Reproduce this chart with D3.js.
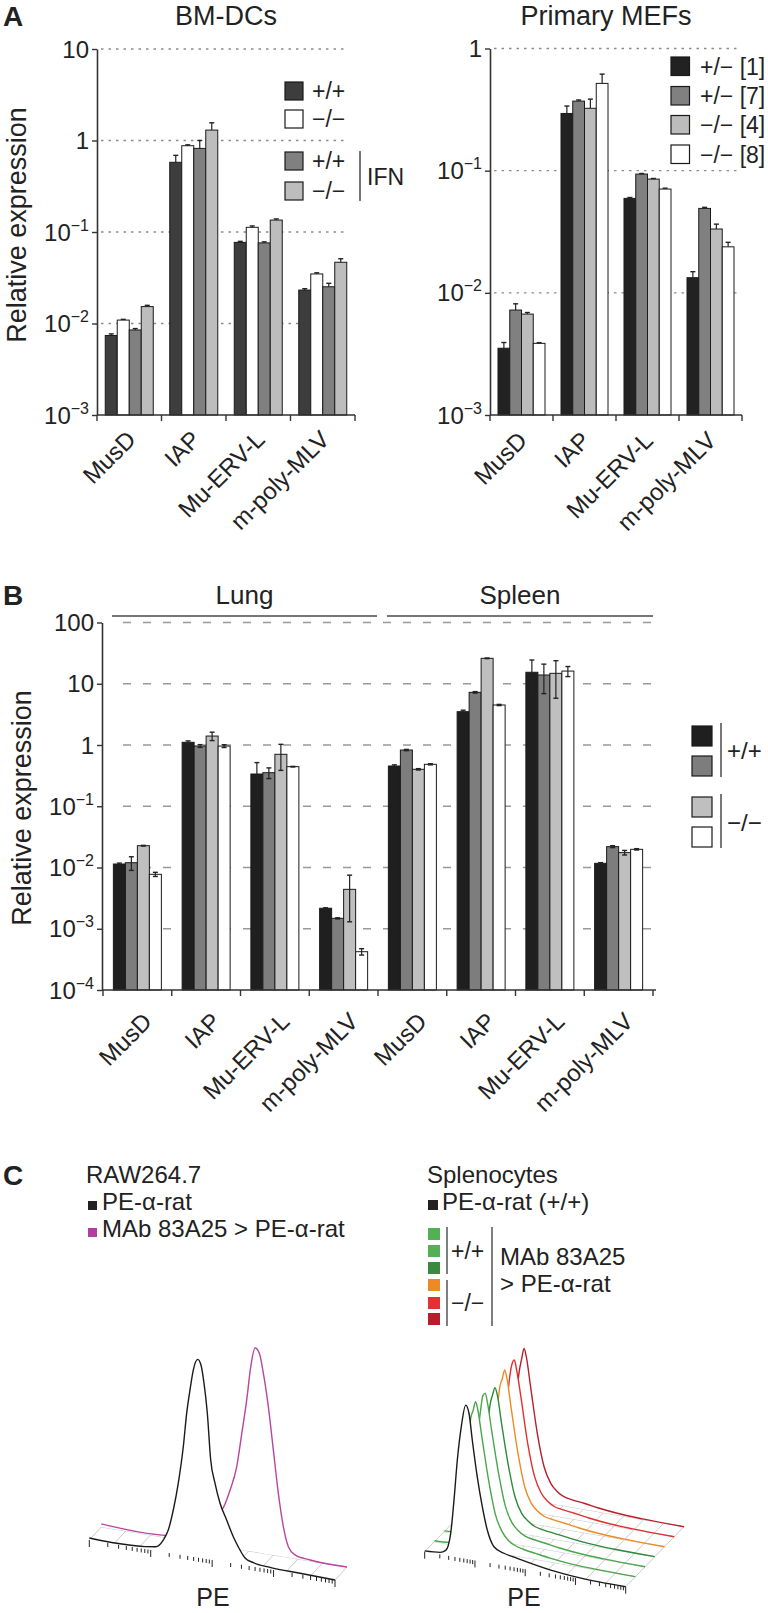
<!DOCTYPE html>
<html><head><meta charset="utf-8">
<script src="https://cdn.jsdelivr.net/npm/d3@7"></script>
<style>
body{margin:0;background:#fff}
svg{display:block}
text{font-family:"Liberation Sans",Arial,Helvetica,sans-serif;fill:#222}
</style>
</head><body>
<svg id="fig" width="768" height="1613"></svg>
<script>
// ---------------- DATA ----------------
const genes = ["MusD", "IAP", "Mu-ERV-L", "m-poly-MLV"];
const tissueGenes = ["MusD", "IAP", "Mu-ERV-L", "m-poly-MLV", "MusD", "IAP", "Mu-ERV-L", "m-poly-MLV"];

// Panel A, BM-DCs
const bmdcWT      = [0.0074, 0.578, 0.077, 0.0232];
const bmdcKO      = [0.0109, 0.877, 0.1125, 0.0348];
const bmdcWTifn   = [0.0085, 0.82, 0.076, 0.0252];
const bmdcKOifn   = [0.0153, 1.30, 0.135, 0.0467];
const bmdcWTerr    = [0.0003, 0.11, 0.002, 0.0008];
const bmdcKOerr    = [0.0002, 0.02, 0.004, 0.001];
const bmdcWTifnErr = [0.0003, 0.18, 0.002, 0.0023];
const bmdcKOifnErr = [0.0005, 0.26, 0.004, 0.0043];
const bmdcLegend = ["+/+", "\u2212/\u2212", "+/+", "\u2212/\u2212"];

// Panel A, primary MEFs
const mefHet1 = [0.00352, 0.294, 0.0593, 0.0133];
const mefHet7 = [0.00723, 0.371, 0.0938, 0.0491];
const mefKO4  = [0.0067, 0.324, 0.0853, 0.0333];
const mefKO8  = [0.00386, 0.518, 0.0707, 0.0238];
const mefHet1Err = [0.0004, 0.044, 0.001, 0.0016];
const mefHet7Err = [0.0009, 0.008, 0.001, 0.001];
const mefKO4Err  = [0.0002, 0.061, 0.001, 0.0032];
const mefKO8Err  = [0.00005, 0.099, 0.0012, 0.0021];
const mefLegend = ["+/\u2212 [1]", "+/\u2212 [7]", "\u2212/\u2212 [4]", "\u2212/\u2212 [8]"];

// Panel B, lung (first 4) and spleen (last 4)
const tisWT1 = [0.0114, 1.107, 0.336, 0.00216, 0.454, 3.50, 15.4, 0.0117];
const tisWT2 = [0.01197, 0.964, 0.353, 0.00148, 0.828, 7.24, 13.9, 0.0219];
const tisKO1 = [0.0227, 1.40, 0.705, 0.0044, 0.401, 26.0, 14.8, 0.0175];
const tisKO2 = [0.00774, 0.96, 0.443, 0.000422, 0.484, 4.50, 16.1, 0.0198];
const tisWT1Err = [0.0004, 0.06, 0.18, 0.00004, 0.02, 0.2, 9, 0.0003];
const tisWT2Err = [0.003, 0.05, 0.07, 0.00003, 0.02, 0.2, 7, 0.0008];
const tisKO1Err = [0.0003, 0.22, 0.32, 0.0031, 0.01, 0.3, 9, 0.0015];
const tisKO2Err = [0.0006, 0.05, 0.005, 0.00005, 0.01, 0.1, 3, 0.0005];
const tissues = ["Lung", "Spleen"];
const tissueLegend = ["+/+", "\u2212/\u2212"];

// tick labels
const bmdcTicks = [10, 1, 0.1, 0.01, 0.001];
const bmdcTickLabels = [["10", ""], ["1", ""], ["10", "\u22121"], ["10", "\u22122"], ["10", "\u22123"]];
const mefTicks = [1, 0.1, 0.01, 0.001];
const mefTickLabels = [["1", ""], ["10", "\u22121"], ["10", "\u22122"], ["10", "\u22123"]];
const tisTicks = [100, 10, 1, 0.1, 0.01, 0.001, 0.0001];
const tisTickLabels = [["100", ""], ["10", ""], ["1", ""], ["10", "\u22121"], ["10", "\u22122"], ["10", "\u22123"], ["10", "\u22124"]];

// Panel C, flow histograms (PE fluorescence, % of max count)
const rawBlackPE  = [1, 3, 8, 12, 16, 19.3, 23.3, 28.1, 33.9, 38.5, 43.6, 49.3, 58.2, 65.8, 73.6, 83.4, 94.7, 111, 134, 172, 221, 266, 343, 468, 875, 2692, 10000];
const rawBlackCnt = [1, 0.6, 1.2, 2, 5.9, 11.2, 21.4, 35, 53.2, 70, 81.6, 91.6, 97.2, 94.7, 86.1, 71.7, 48.9, 38, 28.6, 20.8, 13.1, 8.6, 3.6, 2, 1, 0.5, 0];
const rawMabPE  = [1, 10.9, 19, 33.6, 59, 91.4, 125, 160, 194, 233, 271, 319, 374, 435, 524, 632, 763, 920, 1110, 1427, 2505, 10000];
const rawMabCnt = [1.5, 1, 2, 6, 14, 17.9, 28.4, 40.3, 57.2, 73.9, 90.5, 100, 97.8, 88.2, 72.3, 51.5, 30.6, 14.7, 5.3, 1.8, 0.5, 0];

const splBlackPE  = [1, 2.02, 2.62, 3.29, 3.83, 4.46, 5.35, 6.55, 7.61, 8.85, 11.1, 14.0, 17.6, 23.9, 37.8, 69.6, 322, 1232, 10000];
const splBlackCnt = [0.5, 1.3, 3.2, 14.8, 36.6, 62.8, 84.8, 99.2, 94.3, 77.4, 54.3, 35.5, 21, 11, 7.9, 6.1, 2.3, 0.6, 0];
const splMabPE = [1, 2, 2.6, 3.3, 3.8, 4.5, 5.3, 5.9, 6.6, 7.3, 8.9, 12.1, 16.5, 22.4, 30, 41, 60, 103, 200, 472, 1500, 10000];
const splGreen1  = [0.6, 1.2, 3, 15, 36, 62, 84, 89, 95, 90, 72, 45, 24, 14, 9, 6.5, 5, 3.8, 2.4, 1.1, 0.4, 0];
const splGreen2  = [0.5, 1.4, 3.5, 16, 37, 61, 82, 92, 94, 88, 70, 44, 23.5, 13.5, 9, 6.2, 5, 3.9, 2.5, 1.2, 0.4, 0];
const splGreen3  = [0.6, 1.3, 3.2, 14, 34, 58, 80, 86, 91, 87, 69, 43, 23, 13, 8.8, 6, 4.8, 3.7, 2.4, 1.1, 0.3, 0];
const splOrange  = [0.5, 1.1, 3, 15, 36, 63, 85, 90, 96, 91, 72, 44, 23, 13, 8.6, 6, 4.9, 3.9, 2.5, 1.2, 0.4, 0];
const splRed     = [0.6, 1.2, 3.1, 14, 35, 61, 84, 93, 96, 90, 73, 44, 23.5, 13.4, 8.8, 6, 4.9, 3.9, 2.5, 1.2, 0.4, 0];
const splDarkRed = [0.5, 1.5, 3, 14, 35, 60, 82, 90, 97, 92, 73, 43.8, 23, 13, 8.5, 5.9, 4.8, 3.9, 2.5, 1.2, 0.4, 0];
const floorGridPE = [1, 2.5, 6.3, 15.8, 39.8, 100, 251, 631, 1585, 3981, 10000];

// ---------------- DRAWING ----------------
const svg = d3.select("#fig");
const ink = "#222";

function txt(g, x, y, s, size, anchor, weight) {
  return g.append("text").attr("x", x).attr("y", y).attr("text-anchor", anchor || "start")
    .style("font-size", size + "px").style("font-weight", weight || "normal").text(s);
}

function drawBars(p) {
  const g = svg.append("g");
  const y = d3.scaleLog().domain(p.domain).range([p.yBot, p.yTop]);
  const x = d3.scaleBand().domain(d3.range(p.cats.length)).range([p.x0, p.x1]);
  const inner = d3.scaleBand().domain(d3.range(p.series.length)).range([0, p.groupW]);
  const off = (x.bandwidth() - p.groupW) / 2;

  g.selectAll(".grid").data(p.grid).join("line")
    .attr("x1", p.gridX0).attr("x2", p.gridX1)
    .attr("y1", d => y(d)).attr("y2", d => y(d))
    .attr("stroke", p.gridColor).attr("stroke-width", p.gridW)
    .attr("stroke-dasharray", p.gridDash);

  p.series.forEach((vals, si) => {
    g.selectAll(null).data(vals).join("rect")
      .attr("x", (d, i) => x(i) + off + inner(si))
      .attr("width", inner.bandwidth())
      .attr("y", d => y(d)).attr("height", d => p.yBot - y(d))
      .attr("fill", p.colors[si]).attr("stroke", "#1a1a1a").attr("stroke-width", 1);
  });

  p.series.forEach((vals, si) => {
    vals.forEach((v, i) => {
      const e = p.errs[si][i];
      const cx = x(i) + off + inner(si) + inner.bandwidth() / 2;
      const yTopE = y(v + e);
      const yLowE = p.both ? y(Math.max(v - e, p.domain[0])) : y(v);
      g.append("line").attr("x1", cx).attr("x2", cx).attr("y1", yTopE).attr("y2", yLowE)
        .attr("stroke", ink).attr("stroke-width", 1.2);
      g.append("line").attr("x1", cx - 2.5).attr("x2", cx + 2.5).attr("y1", yTopE).attr("y2", yTopE)
        .attr("stroke", ink).attr("stroke-width", 1.4);
      if (p.both && v - e > p.domain[0]) {
        g.append("line").attr("x1", cx - 2.5).attr("x2", cx + 2.5).attr("y1", yLowE).attr("y2", yLowE)
          .attr("stroke", ink).attr("stroke-width", 1.4);
      }
    });
  });

  // y axis
  const ya = g.append("g").attr("transform", `translate(${p.axisX},0)`)
    .call(d3.axisLeft(y).tickValues(p.ticks).tickSize(5).tickSizeOuter(0).tickFormat(() => ""));
  ya.select(".domain").attr("stroke", "#333").attr("stroke-width", 1.6);
  ya.selectAll(".tick line").attr("stroke", "#333").attr("stroke-width", 1.4);
  p.ticks.forEach((t, i) => {
    const lab = p.tickLabels[i];
    const tt = g.append("text").attr("x", p.axisX - 8).attr("y", y(t) + 8.5)
      .attr("text-anchor", "end").style("font-size", "24px");
    tt.append("tspan").text(lab[0]);
    if (lab[1]) tt.append("tspan").attr("dy", -10).style("font-size", "16px").text(lab[1]);
  });

  // x axis
  g.append("line").attr("x1", p.axisX).attr("x2", p.xAxisEnd).attr("y1", p.yBot).attr("y2", p.yBot)
    .attr("stroke", "#333").attr("stroke-width", 1.6);
  const bounds = d3.range(p.cats.length).map(i => x(i)).concat([p.x1]);
  g.selectAll(".xt").data(bounds).join("line")
    .attr("x1", d => d).attr("x2", d => d).attr("y1", p.yBot).attr("y2", p.yBot + 6)
    .attr("stroke", "#333").attr("stroke-width", 1.4);
  p.cats.forEach((c, i) => {
    const ax = x(i) + x.bandwidth() / 2 + p.labDx, ay = p.yBot + p.labDy;
    g.append("text").attr("transform", `translate(${ax},${ay}) rotate(-45)`)
      .attr("text-anchor", "end").style("font-size", "24px").text(c);
  });
  // axis title
  if (p.title) {
    g.append("text").attr("transform", `translate(${p.titleX},${p.titleY}) rotate(-90)`)
      .attr("text-anchor", "middle").style("font-size", "27px").text(p.title);
  }
  return { g, x, y };
}

// ---- Panel A left: BM-DCs
const colA = ["#3d3d3d", "#ffffff", "#808080", "#bdbdbd"];
drawBars({
  cats: genes, series: [bmdcWT, bmdcKO, bmdcWTifn, bmdcKOifn],
  errs: [bmdcWTerr, bmdcKOerr, bmdcWTifnErr, bmdcKOifnErr], both: false,
  colors: colA, domain: [0.001, 10], yTop: 49, yBot: 415, x0: 97, x1: 355, xAxisEnd: 355,
  axisX: 97, groupW: 48, grid: [10, 1, 0.1, 0.01], gridX0: 101, gridX1: 348,
  gridColor: "#8c8c8c", gridW: 1.3, gridDash: "2.5,5",
  ticks: bmdcTicks, tickLabels: bmdcTickLabels, labDx: 8, labDy: 26,
  title: "Relative expression", titleX: 26, titleY: 225
});
txt(svg, 226, 25, "BM-DCs", 27, "middle");
txt(svg, 3, 26, "A", 28, "start", "bold");
{
  const rows = [82, 110, 152, 182];
  bmdcLegend.forEach((s, i) => {
    svg.append("rect").attr("x", 285).attr("y", rows[i]).attr("width", 18).attr("height", 18)
      .attr("fill", colA[i]).attr("stroke", "#1a1a1a").attr("stroke-width", 1.2);
    txt(svg, 312, rows[i] + 17, s, 23);
  });
  svg.append("line").attr("x1", 360).attr("x2", 360).attr("y1", 151).attr("y2", 201)
    .attr("stroke", "#555").attr("stroke-width", 1.6);
  txt(svg, 367, 185, "IFN", 23);
}

// ---- Panel A right: MEFs
const colM = ["#222222", "#808080", "#bcbcbc", "#ffffff"];
drawBars({
  cats: genes, series: [mefHet1, mefHet7, mefKO4, mefKO8],
  errs: [mefHet1Err, mefHet7Err, mefKO4Err, mefKO8Err], both: false,
  colors: colM, domain: [0.001, 1], yTop: 48.5, yBot: 415, x0: 490, x1: 742, xAxisEnd: 742,
  axisX: 490, groupW: 47, grid: [1, 0.1, 0.01], gridX0: 494, gridX1: 740,
  gridColor: "#8c8c8c", gridW: 1.3, gridDash: "2.5,5",
  ticks: mefTicks, tickLabels: mefTickLabels, labDx: 7, labDy: 27, title: null
});
txt(svg, 606, 25, "Primary MEFs", 27, "middle");
{
  const rows = [57, 86.5, 115.5, 145];
  mefLegend.forEach((s, i) => {
    svg.append("rect").attr("x", 671).attr("y", rows[i]).attr("width", 18.5).attr("height", 18.5)
      .attr("fill", colM[i]).attr("stroke", "#1a1a1a").attr("stroke-width", 1.2);
    txt(svg, 700, rows[i] + 17.5, s, 23);
  });
}

// ---- Panel B: tissues
const colB = ["#1f1f1f", "#7d7d7d", "#bfbfbf", "#ffffff"];
drawBars({
  cats: tissueGenes, series: [tisWT1, tisWT2, tisKO1, tisKO2],
  errs: [tisWT1Err, tisWT2Err, tisKO1Err, tisKO2Err], both: true,
  colors: colB, domain: [0.0001, 100], yTop: 622.5, yBot: 990, x0: 103, x1: 653, xAxisEnd: 656,
  axisX: 102, groupW: 48, grid: [100, 10, 1, 0.1, 0.01, 0.001], gridX0: 123, gridX1: 658,
  gridColor: "#999", gridW: 1.6, gridDash: "8,12",
  ticks: tisTicks, tickLabels: tisTickLabels, labDx: 16, labDy: 33,
  title: "Relative expression", titleX: 31, titleY: 808
});
txt(svg, 3, 605, "B", 28, "start", "bold");
{
  const spans = [[112, 377], [387, 653]];
  tissues.forEach((t, i) => {
    txt(svg, (spans[i][0] + spans[i][1]) / 2, 604, t, 26, "middle");
    svg.append("line").attr("x1", spans[i][0]).attr("x2", spans[i][1]).attr("y1", 616).attr("y2", 616)
      .attr("stroke", "#777").attr("stroke-width", 2.2);
  });
  const rows = [726, 756, 797, 827];
  rows.forEach((r, i) => {
    svg.append("rect").attr("x", 692).attr("y", r).attr("width", 20).attr("height", 20)
      .attr("fill", colB[i]).attr("stroke", "#1a1a1a").attr("stroke-width", 1.2);
  });
  svg.append("line").attr("x1", 721).attr("x2", 721).attr("y1", 723).attr("y2", 777).attr("stroke", "#777").attr("stroke-width", 2);
  svg.append("line").attr("x1", 721).attr("x2", 721).attr("y1", 794).attr("y2", 848).attr("stroke", "#777").attr("stroke-width", 2);
  txt(svg, 727, 759, tissueLegend[0], 24);
  txt(svg, 727, 831, tissueLegend[1], 24);
}

// ---- Panel C: legends
txt(svg, 3, 1185, "C", 28, "start", "bold");
txt(svg, 86, 1183, "RAW264.7", 24);
svg.append("rect").attr("x", 88).attr("y", 1201).attr("width", 9).attr("height", 9).attr("fill", "#222");
txt(svg, 102, 1210, "PE-\u03b1-rat", 24);
svg.append("rect").attr("x", 88).attr("y", 1228).attr("width", 9).attr("height", 9).attr("fill", "#b03fa0");
txt(svg, 102, 1237, "MAb 83A25 > PE-\u03b1-rat", 24);

txt(svg, 427, 1183, "Splenocytes", 24);
svg.append("rect").attr("x", 428).attr("y", 1200).attr("width", 10).attr("height", 10).attr("fill", "#222");
txt(svg, 442, 1210, "PE-\u03b1-rat (+/+)", 24);
const splColors = ["#55b055", "#55b055", "#3a8a3e", "#ee8a25", "#e03232", "#b51f2b"];
const splRows = [1228, 1245, 1262, 1279, 1297, 1313];
splColors.forEach((c, i) => {
  svg.append("rect").attr("x", 428).attr("y", splRows[i]).attr("width", 12).attr("height", 12).attr("fill", c);
});
svg.append("line").attr("x1", 447).attr("x2", 447).attr("y1", 1227).attr("y2", 1274).attr("stroke", "#555").attr("stroke-width", 1.5);
svg.append("line").attr("x1", 447).attr("x2", 447).attr("y1", 1280).attr("y2", 1326).attr("stroke", "#555").attr("stroke-width", 1.5);
svg.append("line").attr("x1", 492).attr("x2", 492).attr("y1", 1227).attr("y2", 1326).attr("stroke", "#555").attr("stroke-width", 1.5);
txt(svg, 451, 1259, "+/+", 23);
txt(svg, 451, 1311, "\u2212/\u2212", 23);
txt(svg, 500, 1265, "MAb 83A25", 24);
txt(svg, 500, 1292, "> PE-\u03b1-rat", 24);

// ---- Panel C: histograms
function drawHist(p) {
  const g = svg.append("g");
  const xs = d3.scaleLog().domain([1, 1e4]).range([p.x0, p.x1]);
  const by = d3.scaleLinear().domain([p.x0, p.x1]).range([p.y0, p.y1]);
  const hs = d3.scaleLinear().domain([0, 100]).range([0, p.h]);
  const nL = p.traces.length;
  const base = (pe, L) => { const sx = xs(pe); return [sx + L * p.ox, by(sx) + L * p.oy]; };
  floorGridPE.forEach(v => {
    const a = base(v, 0), b = base(v, nL - 1);
    g.append("line").attr("x1", a[0]).attr("y1", a[1]).attr("x2", b[0]).attr("y2", b[1])
      .attr("stroke", "#c4c4c4").attr("stroke-width", 0.9);
  });
  for (let L = 1; L < nL; L++) {
    const a = base(1, L), b = base(1e4, L);
    g.append("line").attr("x1", a[0]).attr("y1", a[1]).attr("x2", b[0]).attr("y2", b[1])
      .attr("stroke", "#c4c4c4").attr("stroke-width", 0.9);
  }
  const area = d3.area().x(d => d[0]).y0(d => d[2]).y1(d => d[1]).curve(d3.curveMonotoneX);
  const line = d3.line().x(d => d[0]).y(d => d[1]).curve(d3.curveMonotoneX);
  for (let k = nL - 1; k >= 0; k--) {
    const tr = p.traces[k];
    const pts = tr.pe.map((v, i) => { const b = base(v, k); return [b[0], b[1] - hs(tr.cnt[i]), b[1]]; });
    g.append("path").attr("d", area(pts)).attr("fill", "#fff");
    g.append("path").attr("d", line(pts)).attr("fill", "none").attr("stroke", tr.color)
      .attr("stroke-width", 1.4).attr("stroke-linejoin", "round");
  }
  xs.ticks().forEach(v => {
    const sx = xs(v);
    const major = Math.abs(Math.log10(v) - Math.round(Math.log10(v))) < 1e-9;
    g.append("line").attr("x1", sx).attr("x2", sx).attr("y1", by(sx)).attr("y2", by(sx) + (major ? 7 : 4))
      .attr("stroke", "#222").attr("stroke-width", 1);
  });
  txt(g, p.labX, p.labY, "PE", 25, "middle");
}

drawHist({
  x0: 89.3, x1: 335, y0: 1540, y1: 1580, h: 204, ox: 12, oy: -13, labX: 213, labY: 1606,
  traces: [
    { pe: rawBlackPE, cnt: rawBlackCnt, color: "#1a1a1a" },
    { pe: rawMabPE, cnt: rawMabCnt, color: "#b8459f" }
  ]
});
drawHist({
  x0: 424.7, x1: 625.7, y0: 1551.7, y1: 1586.7, h: 155, ox: 9.7, oy: -10, labX: 524, labY: 1606,
  traces: [
    { pe: splBlackPE, cnt: splBlackCnt, color: "#1a1a1a" },
    { pe: splMabPE, cnt: splGreen1, color: "#4aa64a" },
    { pe: splMabPE, cnt: splGreen2, color: "#4aa64a" },
    { pe: splMabPE, cnt: splGreen3, color: "#2f8a3a" },
    { pe: splMabPE, cnt: splOrange, color: "#ee8a22" },
    { pe: splMabPE, cnt: splRed, color: "#e0302e" },
    { pe: splMabPE, cnt: splDarkRed, color: "#b81e2a" }
  ]
});
</script>
</body></html>
